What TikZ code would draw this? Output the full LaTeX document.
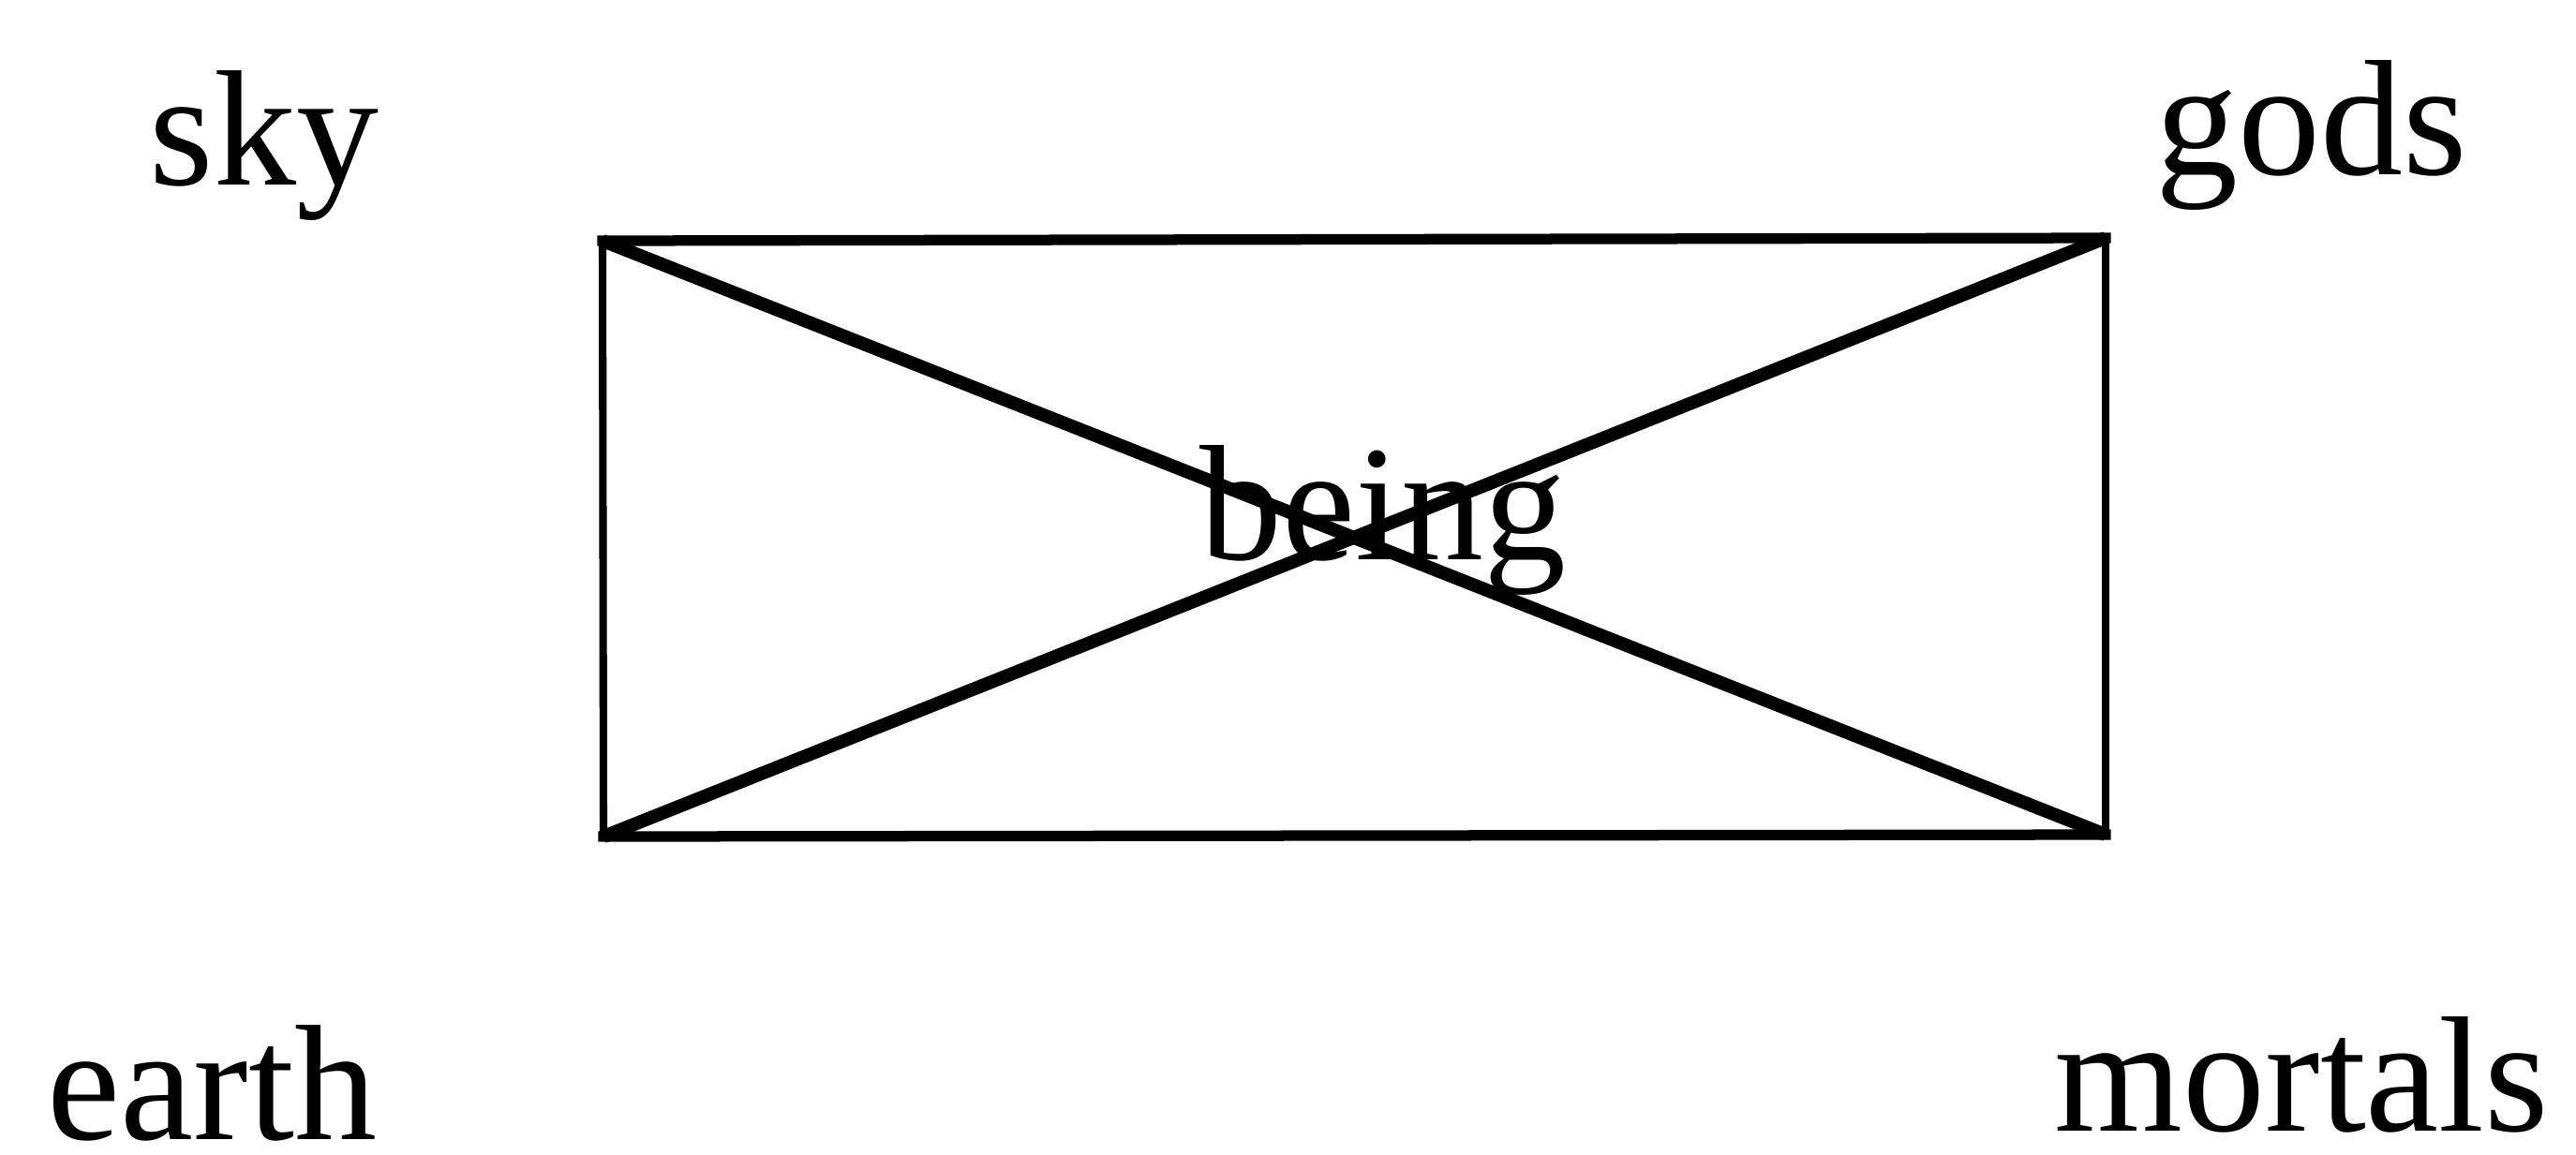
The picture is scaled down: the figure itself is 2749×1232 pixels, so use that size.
\documentclass[tikz,border=0pt]{standalone}
\usepackage{fontspec}
\setmainfont{Liberation Serif}
\begin{document}
\begin{tikzpicture}[x=0.01cm,y=-0.01cm,
  lbl/.style={anchor=base west,inner sep=0pt,text depth=0pt,font=\fontsize{50}{60}\selectfont},
  edgeh/.style={line width=3.2pt,line cap=rect},
  edgev/.style={line width=2.3pt,line cap=rect},
  diag/.style={line width=4pt,line cap=butt}]
\useasboundingbox (0,0) rectangle (2749,1232);
\coordinate (TL) at (643,257);
\coordinate (TR) at (2247,254);
\coordinate (BL) at (644,893);
\coordinate (BR) at (2247,891);
\draw[diag] (TL) -- (BR);
\draw[diag] (BL) -- (TR);
\draw[edgeh] (TL) -- (TR);
\draw[edgeh] (BL) -- (BR);
\draw[edgev] (TL) -- (BL);
\draw[edgev] (TR) -- (BR);
\node[lbl] (sky) at (159,197) {sky};
\node[lbl] (gods) at (2300,186) {gods};
\node[lbl] (earth) at (50,1216) {earth};
\node[lbl] (mortals) at (2192,1207) {mortals};
\node[lbl] (being) at (1280,597) {being};
\end{tikzpicture}
\end{document}
